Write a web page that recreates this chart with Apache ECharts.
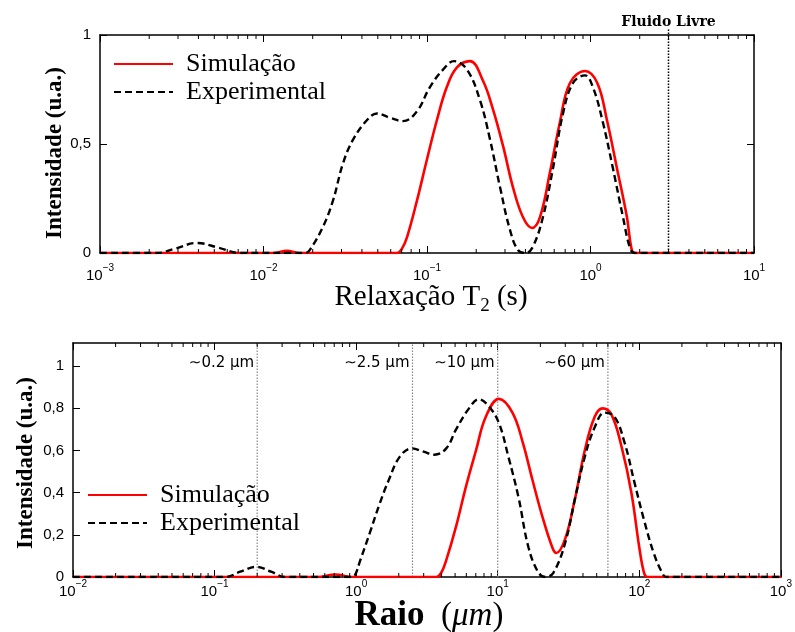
<!DOCTYPE html>
<html>
<head>
<meta charset="utf-8">
<script src="https://cdn.jsdelivr.net/npm/echarts@6/dist/echarts.min.js"></script>
<style>
  html, body { margin: 0; padding: 0; background: #fff; }
  #chart { width: 795px; height: 632px; }
</style>
</head>
<body>
<div id="chart"></div>
<script>
// ---- T2 relaxation distribution (time in seconds, normalised intensity) ----
const t2Sim = [0.001, 0.0114, 0.0139, 0.0167, 0.0656, 0.0703, 0.0755, 0.0868, 0.100, 0.115, 0.132, 0.152, 0.183, 0.220, 0.253, 0.292, 0.336, 0.386, 0.438, 0.491, 0.565, 0.650, 0.749, 0.925, 1.10, 1.26, 1.45, 1.67, 1.78, 1.86, 10];
const t2SimVal = [0, 0, 0.01, 0, 0, 0.02, 0.073, 0.24, 0.43, 0.61, 0.76, 0.85, 0.88, 0.79, 0.66, 0.49, 0.30, 0.165, 0.115, 0.165, 0.37, 0.60, 0.78, 0.835, 0.78, 0.61, 0.39, 0.165, 0.02, 0, 0];

const t2Exp = [0.001, 0.00223, 0.00288, 0.00392, 0.00527, 0.00718, 0.0180, 0.0192, 0.0231, 0.0266, 0.0306, 0.0353, 0.0430, 0.0494, 0.0594, 0.0713, 0.0868, 0.104, 0.125, 0.146, 0.176, 0.211, 0.243, 0.280, 0.322, 0.360, 0.403, 0.445, 0.512, 0.590, 0.679, 0.782, 0.925, 1.035, 1.19, 1.37, 1.58, 1.75, 1.87, 10];
const t2ExpVal = [0, 0, 0.02, 0.046, 0.025, 0, 0, 0.014, 0.12, 0.24, 0.41, 0.52, 0.61, 0.64, 0.62, 0.605, 0.65, 0.76, 0.84, 0.88, 0.84, 0.70, 0.52, 0.30, 0.105, 0.014, 0, 0.03, 0.165, 0.39, 0.64, 0.78, 0.815, 0.76, 0.60, 0.39, 0.165, 0.02, 0, 0];

// ---- Pore radius distribution (radius in micrometres) ----
const rSim = [0.01, 0.533, 0.713, 0.938, 3.68, 3.99, 4.33, 5.08, 5.97, 7.02, 8.24, 10.2, 12.7, 15.0, 17.6, 20.6, 24.3, 25.9, 29.9, 35.1, 41.2, 48.4, 55.1, 63.6, 74.8, 87.9, 100, 108, 114, 1000];
const rSimVal = [0, 0, 0.012, 0, 0, 0.02, 0.08, 0.24, 0.43, 0.60, 0.76, 0.845, 0.78, 0.64, 0.46, 0.29, 0.14, 0.114, 0.18, 0.37, 0.60, 0.76, 0.80, 0.77, 0.62, 0.40, 0.14, 0.02, 0, 0];

const rExp = [0.01, 0.119, 0.152, 0.197, 0.251, 0.314, 0.938, 0.984, 1.07, 1.25, 1.47, 1.70, 2.03, 2.47, 2.99, 3.57, 4.33, 5.08, 6.27, 7.36, 8.65, 10.2, 11.9, 14.0, 16.5, 19.4, 21.7, 24.7, 29.9, 35.1, 41.2, 48.4, 56.9, 66.8, 78.5, 92.3, 108, 127, 145, 155, 1000];
const rExpVal = [0, 0, 0.025, 0.048, 0.025, 0, 0, 0.01, 0.08, 0.21, 0.35, 0.46, 0.57, 0.61, 0.595, 0.58, 0.61, 0.70, 0.80, 0.843, 0.81, 0.73, 0.57, 0.38, 0.14, 0.02, 0, 0.02, 0.16, 0.37, 0.57, 0.71, 0.78, 0.76, 0.64, 0.45, 0.27, 0.11, 0.02, 0, 0];

// ---- Axis ranges and reference markers ----
const t2Range = [0.001, 10];
const rRange = [0.01, 1000];
const seriesNames = ['Simulação', 'Experimental'];
const freeFluidT2 = 3;
const freeFluidLabel = 'Fluido Livre';
const radiusMarks = [0.2, 2.5, 10, 60];
const radiusMarkLabels = ['\u223C0.2 µm', '\u223C2.5 µm', '\u223C10 µm', '\u223C60 µm'];

const SERIF = '"Liberation Serif", "DejaVu Serif", serif';
const SANS = '"Liberation Sans", Arial, sans-serif';

const zip = (xs, ys) => xs.map((x, i) => [x, ys[i]]);

function powLabel(v) {
  const e = Math.round(Math.log10(v));
  return '{b|10}{s|' + (e < 0 ? '\u2212' + (-e) : e) + '}';
}
const powRich = {
  b: { fontSize: 15, fontFamily: SANS, color: '#000', lineHeight: 20, verticalAlign: 'bottom' },
  s: { fontSize: 10, fontFamily: SANS, color: '#000', lineHeight: 10, verticalAlign: 'top' }
};
const commaLabel = v => String(Math.round(v * 10) / 10).replace('.', ',');

function logAxis(gridIndex, range, pos, showLabels, margin) {
  return {
    type: 'log', logBase: 10, gridIndex, position: pos,
    min: range[0], max: range[1],
    axisLine: { onZero: false, lineStyle: { color: '#000', width: 1.5 } },
    axisTick: { inside: true, length: 7, lineStyle: { color: '#000', width: 1 } },
    axisLabel: showLabels ? { margin, formatter: powLabel, rich: powRich } : { show: false },
    splitLine: { show: false }
  };
}

function valueAxis(gridIndex, max, interval, pos, showLabels, ticks) {
  return {
    type: 'value', gridIndex, position: pos, min: 0, max, interval,
    axisLine: { onZero: false, lineStyle: { color: '#000', width: 1.5 } },
    axisTick: { show: ticks, inside: true, length: 7, lineStyle: { color: '#000', width: 1 } },
    axisLabel: showLabels
      ? { margin: 9, fontSize: 15, fontFamily: SANS, color: '#000', formatter: commaLabel, showMaxLabel: max === 1 }
      : { show: false },
    splitLine: { show: false }
  };
}

// Minor log ticks (2..9 in every decade) on the bottom and top edges of a grid
function minorTicks(xi, yi, range, len) {
  const vals = [];
  const e0 = Math.round(Math.log10(range[0])), e1 = Math.round(Math.log10(range[1]));
  for (let e = e0; e < e1; e++) for (let k = 2; k <= 9; k++) vals.push([k * Math.pow(10, e), 0]);
  return {
    type: 'custom', xAxisIndex: xi, yAxisIndex: yi, silent: true, z: 4,
    data: vals,
    renderItem(params, api) {
      const x = api.coord([api.value(0), 0])[0];
      const cs = params.coordSys;
      const st = { stroke: '#000', lineWidth: 1 };
      return { type: 'group', children: [
        { type: 'line', shape: { x1: x, y1: cs.y + cs.height, x2: x, y2: cs.y + cs.height - len }, style: st },
        { type: 'line', shape: { x1: x, y1: cs.y, x2: x, y2: cs.y + len }, style: st }
      ] };
    }
  };
}

const simStyle = { color: '#ff0000', width: 2.6 };
const expStyle = { color: '#000000', width: 2.4, type: [7, 4] };

function curve(name, xi, yi, data, style, z) {
  return {
    name, type: 'line', xAxisIndex: xi, yAxisIndex: yi, data,
    smooth: 0.4, symbol: 'none', showSymbol: false,
    lineStyle: style, itemStyle: { color: style.color }, z
  };
}

function legendAt(left, top) {
  return {
    orient: 'vertical', left, top, itemWidth: 59, itemHeight: 16, itemGap: 2,
    data: seriesNames,
    itemStyle: { opacity: 0 },
    textStyle: { fontFamily: SERIF, fontSize: 26, color: '#000', padding: [0, 0, 0, 8] }
  };
}

const option = {
  animation: false,
  backgroundColor: '#fff',
  grid: [
    { left: 100, top: 35, width: 654, height: 218 },
    { left: 73, top: 343, width: 714, height: 234 }
  ],
  xAxis: [
    logAxis(0, t2Range, 'bottom', true, 10),
    logAxis(0, t2Range, 'top', false),
    logAxis(1, rRange, 'bottom', true, 2),
    logAxis(1, rRange, 'top', false)
  ],
  yAxis: [
    valueAxis(0, 1, 0.5, 'left', true, true),
    valueAxis(0, 1, 0.5, 'right', false, true),
    valueAxis(1, 1.11, 0.2, 'left', true, true),
    valueAxis(1, 1.11, 0.2, 'right', false, false)
  ],
  legend: [legendAt(108, 46), legendAt(82, 477)],
  graphic: [
    { type: 'text', x: 55, y: 153, rotation: Math.PI / 2,
      style: { text: 'Intensidade (u.a.)', font: 'bold 23px ' + SERIF, fill: '#000', align: 'center', verticalAlign: 'middle' } },
    { type: 'text', x: 26, y: 463, rotation: Math.PI / 2,
      style: { text: 'Intensidade (u.a.)', font: 'bold 23px ' + SERIF, fill: '#000', align: 'center', verticalAlign: 'middle' } },
    { type: 'text', x: 431, y: 299,
      style: { text: '{a|Relaxação T}{sub|2}{a| (s)}', align: 'center', verticalAlign: 'middle',
        rich: { a: { fontFamily: SERIF, fontSize: 29, fill: '#000', verticalAlign: 'bottom', padding: [0, 0, 4, 0] },
                sub: { fontFamily: SERIF, fontSize: 19, fill: '#000', verticalAlign: 'bottom' } } } },
    { type: 'text', x: 429, y: 616,
      style: { text: '{b|Raio}{i|  (}{m|μm}{i|)}', align: 'center', verticalAlign: 'middle',
        rich: { b: { fontFamily: SERIF, fontWeight: 'bold', fontSize: 35, fill: '#000' },
                i: { fontFamily: SERIF, fontSize: 33, fill: '#000' },
                m: { fontFamily: SERIF, fontStyle: 'italic', fontSize: 33, fill: '#000' } } } }
  ],
  series: [
    curve(seriesNames[1], 0, 0, zip(t2Exp, t2ExpVal), expStyle, 3),
    curve(seriesNames[0], 0, 0, zip(t2Sim, t2SimVal), simStyle, 2),
    curve(seriesNames[1], 2, 2, zip(rExp, rExpVal), expStyle, 3),
    curve(seriesNames[0], 2, 2, zip(rSim, rSimVal), simStyle, 2),
    minorTicks(0, 0, t2Range, 4),
    minorTicks(2, 2, rRange, 4),
    {
      // free-fluid marker on the T2 axis
      type: 'custom', xAxisIndex: 0, yAxisIndex: 0, silent: true, clip: false, z: 1,
      data: [[freeFluidT2, 0]],
      renderItem(params, api) {
        const p = api.coord([api.value(0), 0]);
        const cs = params.coordSys;
        return { type: 'group', children: [
          { type: 'line', shape: { x1: p[0], y1: p[1], x2: p[0], y2: cs.y - 7 },
            style: { stroke: '#000', lineWidth: 1.5, lineDash: [1.5, 1.5] } },
          { type: 'text', x: p[0], y: cs.y - 13,
            style: { text: freeFluidLabel, font: 'bold 14px "DejaVu Serif"', fill: '#000', align: 'center', verticalAlign: 'middle' } }
        ] };
      }
    },
    {
      // characteristic pore radii
      type: 'custom', xAxisIndex: 2, yAxisIndex: 2, silent: true, z: 1,
      data: radiusMarks.map((r, i) => [r, 0, i]),
      renderItem(params, api) {
        const p = api.coord([api.value(0), 0]);
        const cs = params.coordSys;
        return { type: 'group', children: [
          { type: 'line', shape: { x1: p[0], y1: cs.y + cs.height, x2: p[0], y2: cs.y },
            style: { stroke: '#888', lineWidth: 1.2, lineDash: [1.5, 1.5] } },
          { type: 'text', x: p[0] - 3, y: cs.y + 20,
            style: { text: radiusMarkLabels[api.value(2)], font: '15px "DejaVu Sans"', fill: '#000', align: 'right', verticalAlign: 'middle' } }
        ] };
      }
    }
  ]
};

const chart = echarts.init(document.getElementById('chart'), null, { renderer: 'canvas' });
chart.setOption(option);
</script>
</body>
</html>
